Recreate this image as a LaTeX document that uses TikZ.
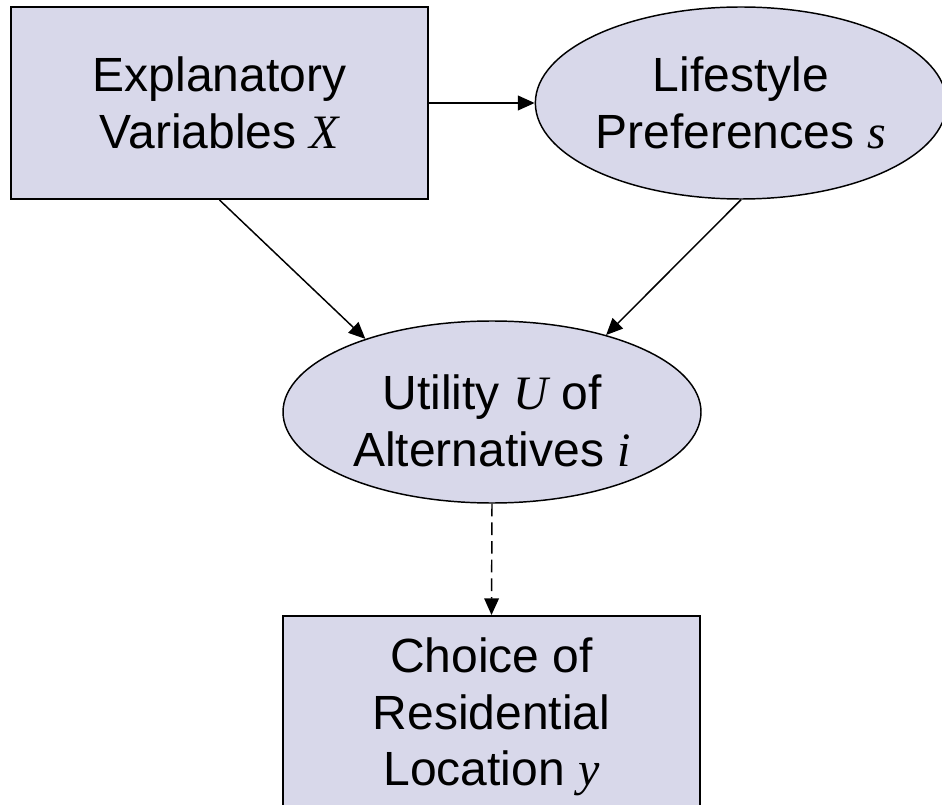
\documentclass[tikz,border=0pt]{standalone}
\usepackage{fontspec}
\setmainfont{Liberation Sans}
\newfontfamily\tms{Liberation Serif}
\usetikzlibrary{arrows.meta,shapes.geometric}
\definecolor{nodefill}{RGB}{216,216,234}
\newcommand{\var}[1]{{\tms\itshape #1}}
\tikzset{
  x=0.75pt, y=-0.75pt,
  every node/.style={font=\fontsize{36}{42.5}\selectfont, align=center, text=black},
  boxnode/.style={draw=black, line width=1.5pt, fill=nodefill, rectangle, inner sep=0pt},
  ellnode/.style={draw=black, line width=1.1pt, fill=nodefill, ellipse, inner sep=0pt},
  link/.style={line width=1.1pt, -{Triangle[length=12.5pt, width=11pt]}},
}
\begin{document}
\begin{tikzpicture}
  \clip (0,0) rectangle (942,805);
  \fill[white] (0,0) rectangle (942,805);

  % nodes
  \node[boxnode, minimum width=312.75pt, minimum height=144pt] (expl) at (219.5,103)
    {Explanatory\\Variables \var{X}};
  \node[ellnode, minimum width=300pt, minimum height=144pt] (pref) at (741,103)
    {Lifestyle\\Preferences \var{s}};
  \node[ellnode, minimum width=313.5pt, minimum height=136.5pt] (util) at (492,412)
    {};
  \node at (492,421) {Utility \var{U} of\\Alternatives \var{i}};
  \node[boxnode, minimum width=312.75pt, minimum height=157.5pt, anchor=north] (choice) at (491.5,615)
    {};
  \node at (491.5,717) {Choice of\\Residential\\Location \var{y}};

  % connectors
  \draw[link] (expl.east) -- (pref.west);
  \draw[link] (expl.south) -- (util.150);
  \draw[link] (pref.south) -- (util.34);
  \draw[link, dash pattern=on 9.5pt off 4.5pt] (util.south) -- (choice.north);
\end{tikzpicture}
\end{document}
